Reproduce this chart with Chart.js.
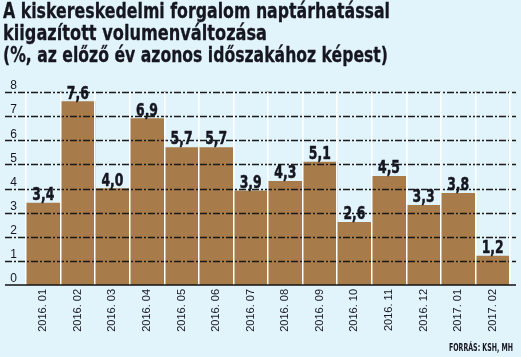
<!DOCTYPE html>
<html>
<head>
<meta charset="utf-8">
<script src="https://cdn.jsdelivr.net/npm/chart.js@4/dist/chart.umd.min.js"></script>
<style>
  html, body { margin: 0; padding: 0; background: #e2f4fb; }
  #wrap { width: 521px; height: 357px; position: relative; }
</style>
</head>
<body>
<div id="wrap"><canvas id="c" width="521" height="357"></canvas></div>
<script>
const titleLines = [
  "A kiskereskedelmi forgalom naptárhatással",
  "kiigazított volumenváltozása",
  "(%, az előző év azonos időszakához képest)"
];
const sourceText = "FORRÁS: KSH, MH";
const categories = ["2016. 01","2016. 02","2016. 03","2016. 04","2016. 05","2016. 06","2016. 07",
                    "2016. 08","2016. 09","2016. 10","2016. 11","2016. 12","2017. 01","2017. 02"];
const values = [3.4, 7.6, 4.0, 6.9, 5.7, 5.7, 3.9, 4.3, 5.1, 2.6, 4.5, 3.3, 3.8, 1.2];

const HEAVY = '"DejaVu Sans", sans-serif';
const PLAIN = '"Liberation Sans", Arial, sans-serif';
const BG = '#e2f4fb';
const BAR = '#a77b4a';
const INK = '#161620';

function squeezed(ctx, txt, x, y, sx, align, stroke) {
  ctx.save();
  ctx.translate(x, y);
  ctx.scale(sx, 1);
  ctx.textAlign = align;
  ctx.fillText(txt, 0, 0);
  if (stroke) {
    ctx.strokeStyle = ctx.fillStyle;
    ctx.lineWidth = stroke;
    ctx.lineJoin = 'round';
    ctx.strokeText(txt, 0, 0);
  }
  ctx.restore();
}

const decor = {
  id: 'decor',
  beforeDraw(chart) {
    const ctx = chart.ctx;
    ctx.save();
    ctx.fillStyle = BG;
    ctx.fillRect(0, 0, chart.width, chart.height);
    ctx.fillStyle = INK;
    ctx.font = 'bold 21px ' + HEAVY;
    ctx.textBaseline = 'alphabetic';
    const widths = [387, 264, 385];
    const bases = [18, 40, 62];
    titleLines.forEach((t, i) => {
      const sx = widths[i] / ctx.measureText(t).width;
      squeezed(ctx, t, 3, bases[i], sx, 'left', 0.3);
    });
    ctx.restore();
  },
  afterDatasetsDraw(chart) {
    const ctx = chart.ctx;
    const y = chart.scales.y;
    ctx.save();
    ctx.strokeStyle = '#1a1a1a';
    ctx.lineWidth = 1.3;
    ctx.setLineDash([7, 2, 2, 2]);
    y.ticks.forEach(t => {
      if (t.value === 0) return;
      const py = Math.round(y.getPixelForValue(t.value)) + 0.5;
      ctx.beginPath();
      ctx.moveTo(5, py);
      ctx.lineTo(516, py);
      ctx.stroke();
    });
    ctx.restore();
    const meta = chart.getDatasetMeta(0);
    ctx.save();
    ctx.fillStyle = INK;
    ctx.font = 'bold 17px ' + HEAVY;
    ctx.textBaseline = 'alphabetic';
    const sx = 22 / ctx.measureText('3,4').width;
    meta.data.forEach((bar, i) => {
      const txt = values[i].toFixed(1).replace('.', ',');
      squeezed(ctx, txt, bar.x, bar.y - 3, sx, 'center', 0.5);
    });
    ctx.restore();
  },
  afterDraw(chart) {
    const ctx = chart.ctx;
    const y = chart.scales.y;
    ctx.save();
    const py = y.getPixelForValue(0);
    ctx.strokeStyle = '#111';
    ctx.lineWidth = 1.5;
    ctx.beginPath();
    ctx.moveTo(5, py);
    ctx.lineTo(516, py);
    ctx.stroke();
    ctx.fillStyle = INK;
    ctx.font = 'bold 10px ' + HEAVY;
    ctx.textBaseline = 'alphabetic';
    const sx = 64 / ctx.measureText(sourceText).width;
    squeezed(ctx, sourceText, 513, 351, sx, 'right', 0);
    ctx.restore();
  }
};

new Chart(document.getElementById('c'), {
  type: 'bar',
  data: {
    labels: categories,
    datasets: [{
      data: values,
      backgroundColor: BAR,
      borderWidth: 0,
      barPercentage: 1,
      categoryPercentage: 1
    }]
  },
  options: {
    responsive: false,
    animation: false,
    devicePixelRatio: 1,
    layout: { padding: { top: 92, left: 5, right: 11, bottom: 0 } },
    plugins: { legend: { display: false }, tooltip: { enabled: false }, title: { display: false } },
    scales: {
      x: {
        offset: true,
        grid: { z: 1, offset: true, color: '#ffffff', lineWidth: 1.5, drawTicks: false },
        border: { display: false },
        ticks: {
          color: INK,
          font: { family: PLAIN, size: 11 },
          minRotation: 90, maxRotation: 90,
          padding: 4,
          autoSkip: false
        },
        afterFit(s) { s.height = 72; }
      },
      y: {
        min: 0, max: 8,
        grid: { display: false, drawTicks: false },
        border: { display: false },
        ticks: {
          stepSize: 1,
          color: INK,
          font: { family: PLAIN, size: 12 },
          padding: 9,
          labelOffset: -6
        },
        afterFit(s) { s.width = 21; }
      }
    }
  },
  plugins: [decor]
});
</script>
</body>
</html>
